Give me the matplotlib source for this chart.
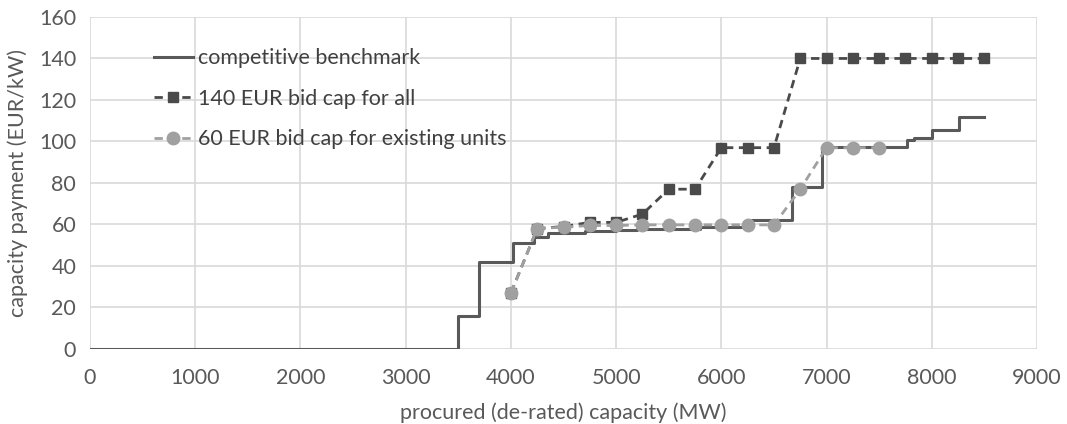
import matplotlib.pyplot as plt

# competitive benchmark (step curve: value holds from x until next x)
bench_x = [0, 3500, 3700, 4020, 4220, 4350, 4700, 5000, 5200, 5800, 6290, 6670, 6960, 7760, 7830, 8000, 8260, 8500]
bench_y = [0, 16, 42, 51, 54, 56, 57, 57.5, 58, 59, 62, 78, 97.5, 100.5, 101.5, 105.5, 111.7, 111.7]

# 140 EUR bid cap for all
cap140_x = [4000, 4250, 4500, 4750, 5000, 5250, 5500, 5750, 6000, 6250, 6500, 6750, 7000, 7250, 7500, 7750, 8000, 8250, 8500]
cap140_y = [27, 58, 59, 61, 61, 65, 77, 77, 97, 97, 97, 140, 140, 140, 140, 140, 140, 140, 140]

# 60 EUR bid cap for existing units
cap60_x = [4000, 4250, 4500, 4750, 5000, 5250, 5500, 5750, 6000, 6250, 6500, 6750, 7000, 7250, 7500]
cap60_y = [27, 58, 58.7, 59.5, 59.5, 59.8, 59.8, 59.8, 59.8, 59.8, 59.8, 77, 97, 97, 97]

x_ticks = list(range(0, 9001, 1000))
y_ticks = list(range(0, 161, 20))

plt.rcParams["font.family"] = ["Lato", "DejaVu Sans"]
txt = "#595959"

fig = plt.figure(figsize=(10.67, 4.24), dpi=100)
ax = fig.add_axes([0.0844, 0.177, 0.8875, 0.783])

ax.step(bench_x, bench_y, where="post", color="#595959", lw=2.2,
        label="competitive benchmark", zorder=3)
ax.plot(cap140_x, cap140_y, color="#4a4a4a", lw=2, ls=(0, (3, 2)),
        marker="s", ms=7.5, label="140 EUR bid cap for all", zorder=4)
ax.plot(cap60_x, cap60_y, color="#a0a0a0", lw=2, ls=(0, (3, 2)),
        marker="o", ms=9, label="60 EUR bid cap for existing units", zorder=5)

ax.set_xlim(0, 9000)
ax.set_ylim(0, 160)
ax.set_xticks(x_ticks)
ax.set_yticks(y_ticks)
ax.grid(True, color="#d9d9d9", lw=1.2)
ax.set_axisbelow(True)
for s in ax.spines.values():
    s.set_visible(False)
ax.tick_params(length=0, labelsize=15.5, colors=txt)
ax.tick_params(axis="x", pad=14)
ax.tick_params(axis="y", pad=10)
ax.set_xlabel("procured (de-rated) capacity (MW)", fontsize=15.5, color=txt, labelpad=10)
ax.set_ylabel("capacity payment (EUR/kW)", fontsize=15.5, color=txt, labelpad=8)

leg = ax.legend(loc="upper left", bbox_to_anchor=(0.047, 0.964), frameon=False,
                fontsize=15.5, labelspacing=0.95, handlelength=1.8, handletextpad=0.25)
for t in leg.get_texts():
    t.set_color("#404040")

fig.savefig("out.png", dpi=100)
